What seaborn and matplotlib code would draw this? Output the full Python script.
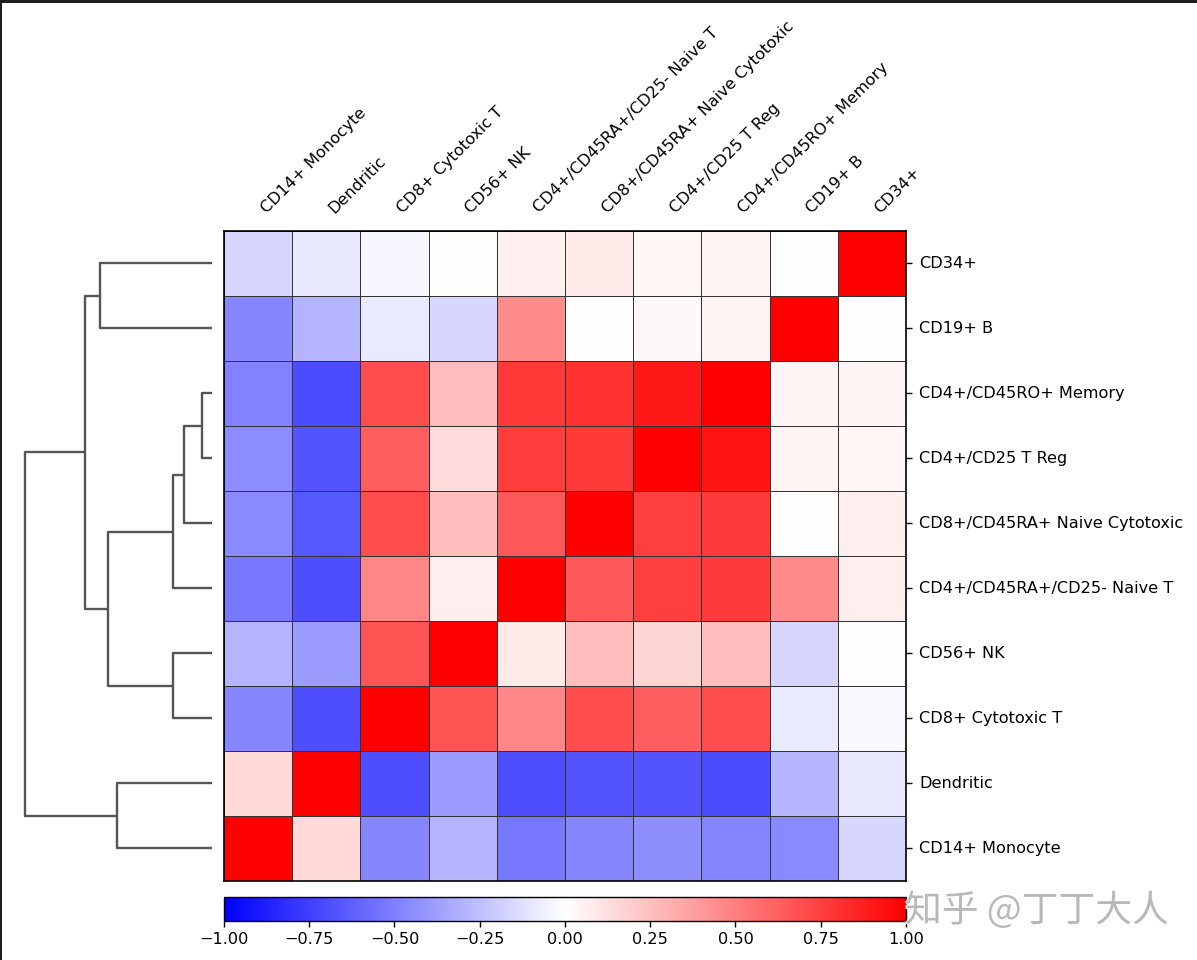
import numpy as np
import pandas as pd
import matplotlib
matplotlib.use("Agg")
import matplotlib.pyplot as plt
import matplotlib.patheffects as pe
from matplotlib.patches import Rectangle
import seaborn as sns

# cell types in dendrogram leaf order (bottom -> top), which is also the column order
cell_types = ["CD14+ Monocyte", "Dendritic", "CD8+ Cytotoxic T", "CD56+ NK",
              "CD4+/CD45RA+/CD25- Naive T", "CD8+/CD45RA+ Naive Cytotoxic",
              "CD4+/CD25 T Reg", "CD4+/CD45RO+ Memory", "CD19+ B", "CD34+"]

# correlation rows, same order as cell_types
corr_rows = [
    [1.00, 0.15, -0.47, -0.29, -0.53, -0.47, -0.44, -0.48, -0.46, -0.16],
    [0.15, 1.00, -0.69, -0.39, -0.69, -0.67, -0.67, -0.70, -0.29, -0.09],
    [-0.47, -0.69, 1.00, 0.67, 0.47, 0.70, 0.63, 0.70, -0.08, -0.03],
    [-0.29, -0.39, 0.67, 1.00, 0.08, 0.25, 0.16, 0.25, -0.16, 0.01],
    [-0.53, -0.69, 0.47, 0.07, 1.00, 0.65, 0.75, 0.77, 0.46, 0.07],
    [-0.46, -0.65, 0.70, 0.25, 0.65, 1.00, 0.75, 0.77, 0.01, 0.07],
    [-0.45, -0.67, 0.63, 0.14, 0.76, 0.78, 1.00, 0.92, 0.04, 0.035],
    [-0.49, -0.70, 0.70, 0.25, 0.78, 0.80, 0.90, 1.00, 0.04, 0.04],
    [-0.47, -0.29, -0.08, -0.16, 0.45, 0.00, 0.03, 0.04, 1.00, 0.00],
    [-0.16, -0.09, -0.035, 0.01, 0.06, 0.08, 0.035, 0.05, 0.00, 1.00],
]

# linkage: merge i creates node len(cell_types)+i from (left, right) at height
merge_left = [6, 5, 4, 2, 0, 13, 8, 15, 14]
merge_right = [7, 10, 11, 3, 1, 12, 9, 16, 17]
merge_height = [0.10, 0.28, 0.39, 0.39, 0.95, 1.04, 1.12, 1.27, 1.87]

cbar_ticks = [-1.0, -0.75, -0.5, -0.25, 0.0, 0.25, 0.5, 0.75, 1.0]

sns.set_style("white")
plt.rcParams["font.family"] = ["DejaVu Sans", "Noto Sans CJK SC"]
plt.rcParams.update({"text.color": "black", "xtick.color": "black",
                     "ytick.color": "black", "axes.labelcolor": "black"})
FS = 11.6

fig = plt.figure(figsize=(11.97, 9.6), dpi=100)

# ---- dendrogram (left) ----
dax = fig.add_axes([0.0130, 0.0823, 0.1641, 0.6771])
n = len(cell_types)
children = {n + i: (a, b) for i, (a, b) in enumerate(zip(merge_left, merge_right))}


def leaf_order(node):
    if node < n:
        return [node]
    a, b = children[node]
    return leaf_order(a) + leaf_order(b)


root = n + len(merge_height) - 1
pos = {leaf: 5 + 10 * k for k, leaf in enumerate(leaf_order(root))}
height = {i: 0.0 for i in range(n)}
for i, (a, b, h) in enumerate(zip(merge_left, merge_right, merge_height)):
    ya, yb = pos[a], pos[b]
    dax.plot([height[a], h, h, height[b]], [ya, ya, yb, yb],
             color="#555555", lw=1.7, solid_capstyle="butt")
    pos[n + i] = (ya + yb) / 2
    height[n + i] = h
dax.set_xlim(max(merge_height) * 1.05, 0)
dax.set_ylim(0, 10 * n)
dax.axis("off")

# ---- heatmap ----
df = pd.DataFrame(corr_rows[::-1], index=cell_types[::-1], columns=cell_types)
ax = fig.add_axes([0.1871, 0.0823, 0.5698, 0.6771])
cax = fig.add_axes([0.1871, 0.0406, 0.5698, 0.025])
sns.heatmap(df, ax=ax, cmap="bwr", vmin=-1, vmax=1,
            linewidths=0.6, linecolor="#333333",
            cbar_ax=cax, cbar_kws={"orientation": "horizontal", "ticks": cbar_ticks})

for sp in ax.spines.values():
    sp.set_visible(True)
    sp.set_color("black")
    sp.set_linewidth(1.2)

ax.xaxis.tick_top()
ax.yaxis.tick_right()
ax.set_xticklabels(cell_types, rotation=45, ha="left", va="bottom", fontsize=FS)
ax.set_yticklabels(cell_types[::-1], rotation=0, va="center", fontsize=FS)
ax.tick_params(axis="x", length=0, pad=11)
ax.tick_params(axis="y", length=4.5, width=1, pad=5, colors="black")
ax.set_xlabel("")
ax.set_ylabel("")

cbar = ax.collections[0].colorbar
cbar.outline.set_visible(True)
cbar.outline.set_linewidth(1.0)
cbar.outline.set_edgecolor("black")
cax.tick_params(labelsize=FS, length=4.5, width=1, color="black", labelcolor="black")

# watermark
fig.text(0.756, 0.051, "知乎 @丁丁大人", fontsize=26.5, color="#b8b8b8",
         family=["Noto Sans CJK SC", "DejaVu Sans"], ha="left", va="center",
         path_effects=[pe.withStroke(linewidth=1.5, foreground="white")])

# screenshot frame on the top and left edges
fig.add_artist(Rectangle((0, 1 - 3 / 960), 1, 3 / 960, transform=fig.transFigure,
                         color="#1e1e1e", lw=0))
fig.add_artist(Rectangle((0, 0), 2 / 1197, 1, transform=fig.transFigure,
                         color="#1e1e1e", lw=0))

fig.savefig("out.png", dpi=100)
